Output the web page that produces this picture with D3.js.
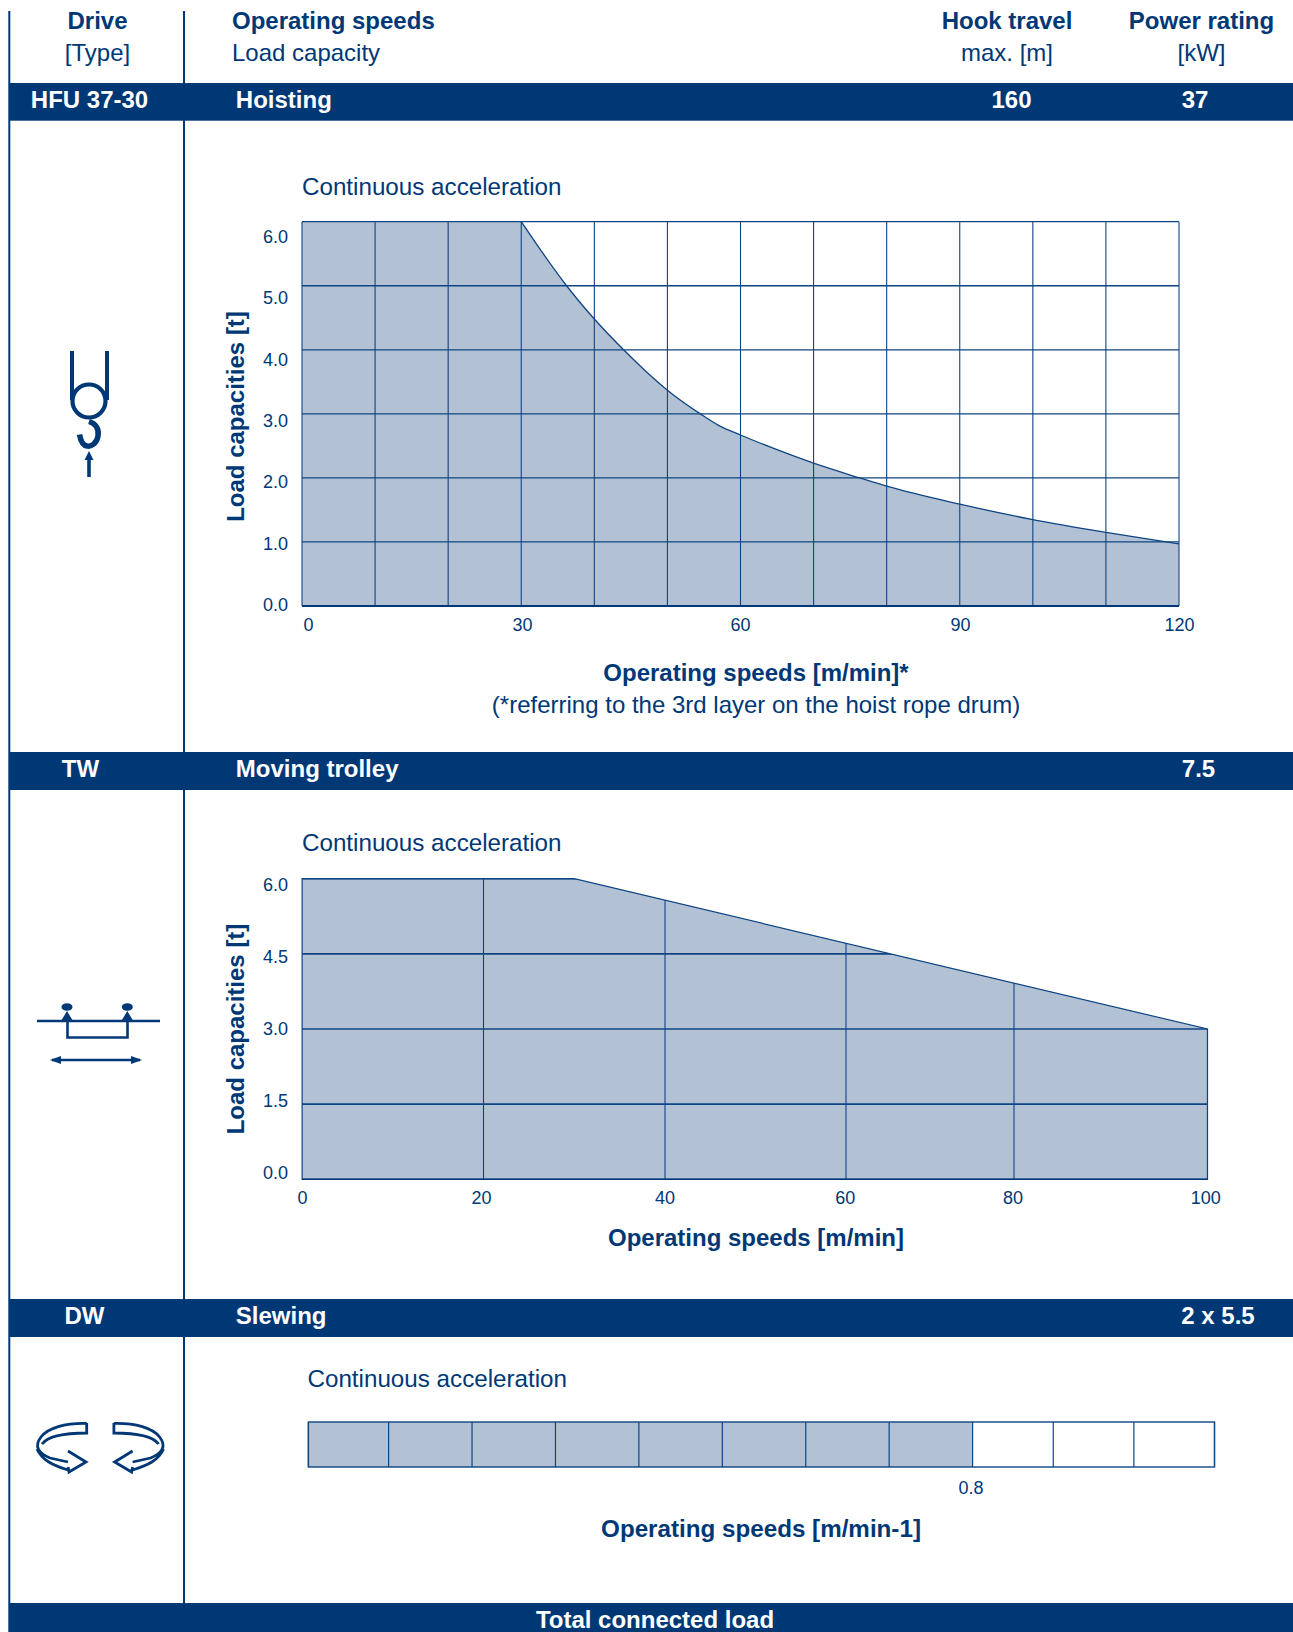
<!DOCTYPE html>
<html><head><meta charset="utf-8">
<script src="https://cdn.jsdelivr.net/npm/d3@7/dist/d3.min.js"></script>
<style>
html,body{margin:0;padding:0;background:#fff}
svg{display:block}
text{font-family:"Liberation Sans",Arial,sans-serif}
</style></head><body>
<svg id="c" width="1293" height="1632" viewBox="0 0 1293 1632"></svg>
<script>
// ---- data ----
const hoistFlatSpeeds = [0, 30];
const hoistFlatLoads  = [6, 6];
const hoistSpeeds   = [30, 33, 36.2, 40, 44, 47, 50, 54.5, 57, 60, 65, 70, 76.3, 80, 90, 100, 110, 120];
const hoistLoads    = [6, 5.5, 5.0, 4.48, 4.0, 3.67, 3.37, 3.0, 2.82, 2.67, 2.44, 2.23, 2.0, 1.87, 1.59, 1.35, 1.15, 0.97];
const hoistXGrid    = [0,10,20,30,40,50,60,70,80,90,100,110,120];
const hoistYGrid    = [0,1,2,3,4,5,6];
const hoistXLabels  = [0,30,60,90,120];
const trolleySpeeds = [0, 30, 100];
const trolleyLoads  = [6, 6, 3];
const trolleyXGrid  = [20,40,60,80,100];
const trolleyYGrid  = [1.5,3,4.5,6];
const trolleyYLabels= [0,1.5,3,4.5,6];
const trolleyXLabels= [0,20,40,60,80,100];
const slewCells     = [0,0.1,0.2,0.3,0.4,0.5,0.6,0.7,0.8,0.9,1.0,1.1];
const slewSpeed     = 0.8;
const headerRows = [
  {x:97.5,  a:"middle", top:"Drive", sub:"[Type]"},
  {x:232,   a:"start",  top:"Operating speeds", sub:"Load capacity"},
  {x:1007,  a:"middle", top:"Hook travel", sub:"max. [m]"},
  {x:1201.5,a:"middle", top:"Power rating", sub:"[kW]"}
];
const bandRows = [
  {y:83,  h:37.7, type:"HFU 37-30", typeX:89.5,name:"Hoisting", cols:[["160",1011.5],["37",1195]]},
  {y:752, h:38,   type:"TW",        typeX:80.5,name:"Moving trolley", cols:[["7.5",1198.5]]},
  {y:1299,h:38,   type:"DW",        typeX:84.5,name:"Slewing", cols:[["2 x 5.5",1218]]}
];

const NAVY="#003876", LINE="#0f4482", FILL="#b2c2d4";
const svg=d3.select("#c");
function txt(x,y,s,o={}){return svg.append("text").attr("x",x).attr("y",y).text(s)
  .attr("font-size",o.size||24).attr("font-weight",o.bold?700:400)
  .attr("text-anchor",o.a||"start").attr("fill",o.fill||NAVY);}
function vline(x,y0,y1,w){svg.append("line").attr("x1",x).attr("x2",x).attr("y1",y0).attr("y2",y1).attr("stroke",NAVY).attr("stroke-width",w);}

// ---- frame ----
vline(9.3,11,1632,2); vline(184,11,1632,2);
headerRows.forEach(r=>{txt(r.x,29,r.top,{bold:true,a:r.a});txt(r.x,60.7,r.sub,{a:r.a});});
bandRows.forEach(b=>{
  svg.append("rect").attr("x",9).attr("y",b.y).attr("width",1284).attr("height",b.h).attr("fill",NAVY);
  const base=b.y+24.7;
  txt(b.typeX,base,b.type,{bold:true,a:"middle",fill:"#fff"});
  txt(235.8,base,b.name,{bold:true,fill:"#fff"});
  b.cols.forEach(c=>txt(c[1],base,c[0],{bold:true,a:"middle",fill:"#fff"}));
});
svg.append("rect").attr("x",9).attr("y",1603).attr("width",1284).attr("height",29).attr("fill",NAVY);
txt(655,1628,"Total connected load",{bold:true,a:"middle",fill:"#fff"});

function styleAxis(g){g.select(".domain").remove();g.selectAll(".tick line").remove();
  g.selectAll("text").attr("font-size",18).attr("fill",NAVY).attr("font-family",'"Liberation Sans",Arial,sans-serif');}
function grid(g,xs,ys,x,y,clip,hw){
  const gg=g.append("g").attr("stroke",LINE);
  if(clip)gg.attr("clip-path",clip);
  gg.selectAll(".v").data(xs).join("line").attr("class","v").attr("stroke-width",1.1).attr("x1",x).attr("x2",x).attr("y1",y.range()[0]).attr("y2",y.range()[1]);
  gg.selectAll(".h").data(ys).join("line").attr("class","h").attr("stroke-width",hw).attr("x1",x.range()[0]).attr("x2",x.range()[x.range().length-1]).attr("y1",y).attr("y2",y);
}

// ---- hoisting ----
(function(){
  const x=d3.scaleLinear().domain([0,120]).range([302,1179]);
  const y=d3.scaleLinear().domain([0,6]).range([606,221.7]);
  const xl=d3.scaleLinear().domain([0,30,60,90,120]).range([308,522,740,960,1179]);
  const yl=d3.scaleLinear().domain([0,6]).range([605,236.5]);
  const curve=d3.line().x(d=>x(d[0])).y(d=>y(d[1])).curve(d3.curveMonotoneX);
  const curvePts=hoistSpeeds.map((s,i)=>[s,hoistLoads[i]]);
  const flatPts=hoistFlatSpeeds.map((s,i)=>[s,hoistFlatLoads[i]]);
  const flat=d3.line().x(d=>x(d[0])).y(d=>y(d[1]))(flatPts);
  const g=svg.append("g");
  txt(302,195,"Continuous acceleration",{size:24.2});
  g.append("path").attr("fill",FILL)
    .attr("d",`M${x(0)},${y(0)}L`+flat.slice(1)+"L"+curve(curvePts).slice(1)+`L${x(120)},${y(0)}Z`);
  grid(g,hoistXGrid,hoistYGrid,x,y,null,1.3);
  g.append("path").attr("fill","none").attr("stroke",LINE).attr("stroke-width",1.3).attr("d",curve(curvePts));
  g.append("line").attr("x1",x(0)).attr("x2",x(120)).attr("y1",y(0)).attr("y2",y(0)).attr("stroke",NAVY).attr("stroke-width",2);
  svg.append("g").attr("transform","translate(288,0)")
    .call(d3.axisLeft(yl).tickValues(hoistYGrid).tickFormat(d3.format(".1f")).tickSize(0).tickPadding(0)).call(styleAxis);
  svg.append("g").attr("transform","translate(0,618)")
    .call(d3.axisBottom(xl).tickValues(hoistXLabels).tickSize(0).tickPadding(0)).call(styleAxis);
  svg.append("text").text("Load capacities [t]").attr("transform","translate(244,416.5) rotate(-90)")
    .attr("text-anchor","middle").attr("font-size",24).attr("font-weight",700).attr("fill",NAVY);
  txt(756,681,"Operating speeds [m/min]*",{bold:true,a:"middle"});
  txt(756,713,"(*referring to the 3rd layer on the hoist rope drum)",{a:"middle"});
})();

// ---- trolley ----
(function(){
  const x=d3.scaleLinear().domain(trolleyXLabels).range([302.1,483.5,665,846,1014,1207.5]);
  const xl=d3.scaleLinear().domain(trolleyXLabels).range([302.1,481,664.6,844.7,1012.5,1205.2]);
  const y=d3.scaleLinear().domain([0,6]).range([1179.3,878.7]);
  const yl=d3.scaleLinear().domain([0,6]).range([1172.8,885]);
  const pts=trolleySpeeds.map((s,i)=>[s,trolleyLoads[i]]);
  const area=d3.area().x(d=>x(d[0])).y0(y(0)).y1(d=>y(d[1]));
  const g=svg.append("g");
  txt(302,851,"Continuous acceleration",{size:24.2});
  g.append("clipPath").attr("id","tc").append("path").datum(pts).attr("d",area);
  g.append("path").datum(pts).attr("fill",FILL).attr("stroke",LINE).attr("stroke-width",1.2).attr("d",area);
  grid(g,trolleyXGrid,trolleyYGrid,x,y,"url(#tc)",1.6);
  g.append("line").attr("x1",x(0)).attr("x2",x(100)).attr("y1",y(0)).attr("y2",y(0)).attr("stroke",NAVY).attr("stroke-width",1.6);
  svg.append("g").attr("transform","translate(288,0)")
    .call(d3.axisLeft(yl).tickValues(trolleyYLabels).tickFormat(d3.format(".1f")).tickSize(0).tickPadding(0)).call(styleAxis);
  svg.append("g").attr("transform","translate(0,1191)")
    .call(d3.axisBottom(xl).tickValues(trolleyXLabels).tickSize(0).tickPadding(0)).call(styleAxis);
  svg.append("text").text("Load capacities [t]").attr("transform","translate(243.5,1029) rotate(-90)")
    .attr("text-anchor","middle").attr("font-size",24).attr("font-weight",700).attr("fill",NAVY);
  txt(756,1246,"Operating speeds [m/min]",{bold:true,a:"middle"});
})();

// ---- slewing ----
(function(){
  const x=d3.scaleLinear().domain([0,0.1,0.8,1.1]).range([308.4,388.6,972.6,1214.5]);
  const top=1422,bot=1467;
  txt(307.5,1386.5,"Continuous acceleration",{size:24.2});
  const g=svg.append("g");
  g.append("rect").attr("x",x(0)).attr("y",top).attr("width",x(slewSpeed)-x(0)).attr("height",bot-top).attr("fill",FILL);
  g.selectAll("line").data(slewCells).join("line").attr("x1",x).attr("x2",x).attr("y1",top).attr("y2",bot).attr("stroke",LINE).attr("stroke-width",1.2);
  g.append("rect").attr("x",x(0)).attr("y",top).attr("width",x(1.1)-x(0)).attr("height",bot-top).attr("fill","none").attr("stroke",LINE).attr("stroke-width",1.4);
  svg.append("g").attr("transform",`translate(-2,${bot+14})`)
    .call(d3.axisBottom(x).tickValues([slewSpeed]).tickFormat(d3.format(".1f")).tickSize(0).tickPadding(0)).call(styleAxis);
  txt(761,1537,"Operating speeds [m/min-1]",{bold:true,a:"middle",size:24.2});
})();

// ---- icons ----
(function(){
  const ic=svg.append("g").attr("fill","none").attr("stroke",NAVY).attr("stroke-linecap","butt");
  // hook
  ic.append("path").attr("stroke-width",4).attr("d","M72 351V400M107 351V400");
  ic.append("circle").attr("cx",89).attr("cy",401).attr("r",16.5).attr("stroke-width",4.2);
  ic.append("path").attr("stroke-width",5.5).attr("d","M89 421.5C97 424 99 430 98 436C97 444 90 447 87 446C83 445.5 80.5 440 79.5 434.5");
  ic.append("path").attr("stroke-width",3.6).attr("d","M89 455V477");
  ic.append("path").attr("fill",NAVY).attr("stroke","none").attr("d","M89 451L93.5 460H84.5Z");
  // trolley
  ic.append("path").attr("stroke-width",2.6).attr("d","M37 1021H160");
  ic.append("path").attr("stroke-width",2.6).attr("d","M67.5 1020V1037.5H127.5V1020");
  [67,127.3].forEach(cx=>{
    ic.append("ellipse").attr("cx",cx).attr("cy",1007).attr("rx",5.5).attr("ry",3.8).attr("fill",NAVY).attr("stroke","none");
    ic.append("path").attr("fill",NAVY).attr("stroke","none").attr("d",`M${cx} 1011L${cx+6} 1021H${cx-6}Z`);
  });
  ic.append("path").attr("stroke-width",2.6).attr("d","M52 1060H140");
  ic.append("path").attr("fill",NAVY).attr("stroke","none").attr("d","M50 1060L61 1056V1064ZM142 1060L131 1056V1064Z");
  // slewing
  const slew="M86.7 1423V1433C65 1433 48 1436 42 1444M86.7 1423.5C65 1423 48 1428 41 1437C34 1446 38 1453 50 1458L68 1462M37 1449C42 1460 52 1465 68 1470M68 1451L86 1462L69 1472L68 1467";
  ic.append("path").attr("stroke-width",2.8).attr("d",slew);
  ic.append("path").attr("stroke-width",2.8).attr("transform","translate(200.6,0) scale(-1,1)").attr("d",slew);
})();
</script>
</body></html>
